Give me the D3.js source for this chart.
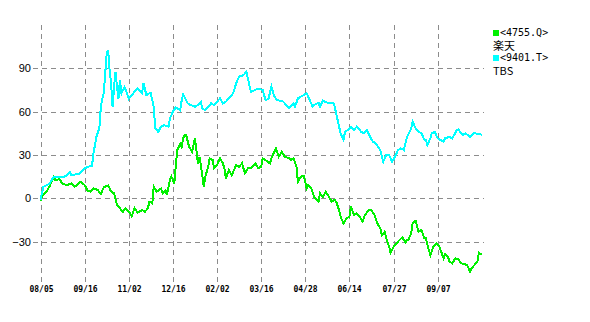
<!DOCTYPE html>
<html><head><meta charset="utf-8">
<script src="https://cdn.jsdelivr.net/npm/d3@7"></script>
<style>
body{margin:0;background:#fff;}
svg{display:block;}
</style></head>
<body>
<svg id="c" width="590" height="322"></svg>
<script>
// ---- data (trading-day index, % change) ----
const tickDays   = [0,30,60,90,120,150,180,210,240,270];
const tickLabels = ["08/05","09/16","11/02","12/16","02/02","03/16","04/28","06/14","07/27","09/07"];
const yTicks     = [-30,0,30,60,90];

const seriesNames = ["<4755.Q>","楽天","<9401.T>","TBS"];

const greenDays = [0,1,4,6,9,10,13,15,18,21,23,25,27,30,32,34,36,39,41,43,46,48,50,52,54,56,58,61,62,64,66,69,71,73,74,76,77,79,82,83,85,86,88,89,91,92,93,95,96,97,98,99,101,103,105,106,107,108,109,111,112,114,115,117,118,120,122,124,125,126,128,130,131,133,135,137,139,141,143,146,148,150,151,153,156,157,159,160,162,164,166,169,170,172,174,175,177,179,181,182,184,186,187,189,190,192,194,196,198,200,201,203,204,206,208,210,211,213,215,217,219,220,223,225,227,229,231,232,234,235,237,238,240,242,244,246,248,249,250,252,253,255,257,259,261,262,264,265,267,269,271,274,275,277,278,280,282,284,286,288,290,292,293,295,297,298,299,300];
const greenVals = [-1.7,1.1,4.6,8,15,12.7,13.2,9.9,9.2,10.4,8,9.2,11.5,9.2,5.3,4.6,6.9,5.7,3,7.6,9,4.6,3.5,-4.6,-6.9,-9.3,-6.9,-10.4,-12.3,-6.9,-10,-8.1,-9.3,-6.9,-2.3,-3.5,8,4.6,6.9,3.5,5.7,2.3,12.7,15,10.4,23,33.4,38,35.7,41.5,43.8,43.8,35.7,32.3,41.5,33.4,24.2,28.8,23,8,15,21.9,27.7,26.5,20.8,23,27.7,24.2,20.8,13.8,19.6,16.1,18.4,23,21.9,24.2,17.3,20.8,20.8,24.2,21,21.9,27.7,26.5,24.2,27.7,32.3,34.6,28.8,32.3,28.8,27.7,26.5,27.7,21.9,11.5,15,15.5,6.9,9.2,6.9,1.1,0,-2.3,3.5,1.1,4.6,1.1,-2.3,-1.1,-2.3,-8.1,-12.7,-17.3,-13.8,-12.7,-5.8,-11.5,-10.4,-12.7,-16.1,-12.7,-8.1,-8.1,-11.5,-17.3,-20.8,-25.4,-23.1,-27.7,-33.5,-37.7,-33.5,-31.2,-28.9,-27,-30.7,-28.9,-29,-24.2,-16.9,-15.5,-23.1,-21.9,-27.7,-27.7,-35.8,-39.3,-33.5,-31.2,-33,-41.5,-38.6,-40.4,-43.9,-45,-41.5,-42.2,-45,-45.5,-46.2,-50.8,-48.5,-46.2,-43.9,-37.7,-38.6,-39];

const cyanDays = [0,2,6,9,13,16,18,20,21,24,27,30,33,35,36,38,40,41,42,43,44,45,46,47,48,49,50,51,52,53,54,55,56,57,58,60,62,64,66,69,70,72,74,75,77,78,80,82,84,87,88,90,92,95,96,97,99,100,102,105,107,109,110,112,114,116,118,121,122,124,126,129,131,133,135,138,140,141,143,146,148,151,153,155,157,159,161,165,167,169,172,173,175,177,181,183,185,186,189,190,192,195,199,200,201,203,204,206,207,209,211,213,215,216,218,220,222,224,226,228,231,233,235,237,239,241,243,245,247,249,250,252,253,255,257,259,261,262,263,265,266,268,270,272,274,275,278,280,283,284,287,289,292,295,297,299,300];
const cyanVals = [-1,8,10,15,15,15,16,18.4,16,16.6,17.3,20.8,22,22.4,31,42.6,48.5,63,69,72.7,86.5,100,102.7,88,79.6,63,77,87.7,77,69,82,72.7,75,77,75,69,71.5,73.8,76,72.7,79.6,71.5,72.7,72.7,63,48.5,46,49.6,50.7,49.6,55.4,60,63,61,68,72,68,65.8,64.6,63.4,64.6,66.9,62.3,61,63.4,65.8,64.6,68,69.2,65.8,66.9,70.4,72.7,79.6,84.2,85.3,87.7,83,73.8,75,76,75,68,69,77.3,70.4,68,67,64.6,62.3,65.8,63.4,69.2,70.4,72.7,68,63.4,64.6,66.2,63.4,67.6,66.2,66.2,63.4,58.8,49.6,45,40.4,46.1,47.3,49.6,47.3,49.6,48.5,46.1,45,47.3,42.6,39.2,38,33.4,25.3,30,30,25.3,28.8,33.4,34.6,33.4,42,44,48.5,53,48.5,46.1,45,40.4,40.4,36.9,41.5,45,46.1,41.5,40.4,39.2,41.5,42.6,41.5,47.3,47.7,43.8,45,42.6,45.4,44.3,44.3,44];

const series = [
  {name:seriesNames[0], label:seriesNames[1], color:"#00f000", days:greenDays, vals:greenVals},
  {name:seriesNames[2], label:seriesNames[3], color:"#00ffff", days:cyanDays, vals:cyanVals}
];

// ---- drawing ----
const svg = d3.select("#c");
const x = d3.scaleLinear().domain([0,300]).range([40.5,481.8]);
const y = d3.scaleLinear().domain([-60,120]).range([285,25]);

// vertical grid + date labels
const xAxis = d3.axisBottom(x).tickValues(tickDays)
  .tickFormat((d,i)=>tickLabels[i]).tickSize(260).tickPadding(1);
const gx = svg.append("g").attr("transform","translate(0,25)").call(xAxis);
gx.select(".domain").remove();
gx.selectAll(".tick line").attr("stroke","#8c8c8c").attr("stroke-dasharray","5,4")
  .attr("shape-rendering","crispEdges");
gx.selectAll(".tick").attr("transform",d=>`translate(${Math.round(x(d))+0.5},0)`);
gx.selectAll(".tick text").attr("font-family","'DejaVu Sans Mono',monospace")
  .attr("font-size","8px").attr("font-weight","bold").attr("fill","#000");

// horizontal grid + value labels
const yAxis = d3.axisLeft(y).tickValues(yTicks).tickFormat(d=>d<0?"\u2212"+Math.abs(d):d)
  .tickSize(-451).tickPadding(2);
const gy = svg.append("g").attr("transform","translate(33,0)").call(yAxis);
gy.select(".domain").remove();
gy.selectAll(".tick line").attr("stroke","#8c8c8c").attr("stroke-dasharray","5,4")
  .attr("shape-rendering","crispEdges");
gy.selectAll(".tick").attr("transform",d=>`translate(0,${Math.round(y(d))+0.5})`);
gy.selectAll(".tick text").attr("font-family","'Liberation Sans',Arial,sans-serif")
  .attr("font-size","11px").attr("fill","#000");

// lines
const line = d3.line().x(d=>x(d[0])).y(d=>y(d[1])).curve(d3.curveLinear);
series.forEach(s=>{
  const pts = s.days.map((d,i)=>[d,s.vals[i]]);
  svg.append("path").datum(pts).attr("d",line)
    .attr("fill","none").attr("stroke",s.color).attr("stroke-width",2)
    .attr("stroke-linejoin","miter").attr("shape-rendering","crispEdges");
});

// legend
const lg = svg.append("g").attr("transform","translate(493,0)");
series.forEach((s,i)=>{
  const base = 36 + i*25;
  lg.append("rect").attr("x",0).attr("y",base-6).attr("width",6).attr("height",6)
    .attr("fill",s.color).attr("shape-rendering","crispEdges");
  lg.append("text").attr("x",7).attr("y",base).text(s.name)
    .attr("font-family","'DejaVu Sans Mono',monospace").attr("font-size","10px").attr("fill","#000");
  lg.append("text").attr("x",0).attr("y",base+14).text(s.label)
    .attr("font-family","'Noto Sans CJK JP','DejaVu Sans',sans-serif").attr("font-size","11px").attr("fill","#000");
});
</script>
</body></html>
